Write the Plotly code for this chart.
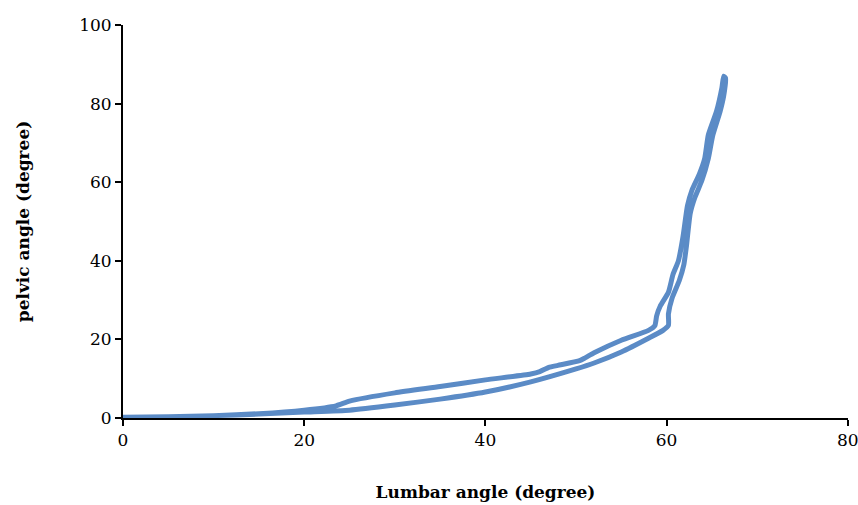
import plotly.graph_objects as go

# Branch going up (lower / right branch)
up_x = [0, 5, 10, 15, 20, 25, 30, 35, 40, 45, 50, 52, 55, 58, 59.6, 60.2, 60.2, 60.6, 61.4, 61.9, 62.2, 62.6, 63.1, 63.9, 64.6, 65.1, 65.9, 66.3, 66.5]
up_y = [0.2, 0.3, 0.6, 1.0, 1.5, 2.0, 3.3, 4.8, 6.6, 9.2, 12.5, 14.0, 16.8, 20.3, 22.3, 23.6, 26.5, 30.5, 35.0, 39.0, 44.0, 52.0, 56.0, 60.5, 66.0, 72.0, 78.0, 82.0, 86.5]

# Branch coming down (upper / left branch)
down_x = [66.3, 66.1, 65.5, 64.6, 64.2, 63.6, 62.8, 62.3, 61.8, 61.3, 60.7, 60.2, 59.3, 58.9, 58.7, 58.0, 55.0, 52.0, 51.0, 50.4, 48.0, 47.0, 46.0, 45.0, 40.0, 35.0, 30.0, 25.0, 23.5, 20.0, 15.0, 10.0, 5.0, 0]
down_y = [87.0, 84.0, 78.0, 72.0, 66.0, 62.0, 58.0, 54.0, 46.0, 40.0, 36.5, 32.0, 28.5, 26.0, 23.5, 22.3, 19.8, 16.6, 15.3, 14.6, 13.4, 12.9, 11.8, 11.2, 9.7, 8.0, 6.4, 4.3, 3.1, 2.0, 1.1, 0.6, 0.3, 0.2]

x_ticks = [0, 20, 40, 60, 80]
y_ticks = [0, 20, 40, 60, 80, 100]

color = "#5B8BC6"
fig = go.Figure()
fig.add_trace(go.Scatter(x=up_x + down_x, y=up_y + down_y, mode="lines",
                         line=dict(color=color, width=5, shape="spline", smoothing=0.5),
                         showlegend=False, hoverinfo="skip"))

font_family = "DejaVu Serif, serif"
fs = 17
fig.update_layout(
    width=858, height=505,
    margin=dict(l=123, r=10, t=25, b=87),
    plot_bgcolor="white", paper_bgcolor="white",
    font=dict(family=font_family, size=fs, color="black"),
    showlegend=False,
)
fig.update_xaxes(
    range=[0, 80.02], tickvals=x_ticks, showgrid=False, zeroline=False,
    showline=True, linecolor="black", linewidth=2,
    ticks="outside", ticklen=6, tickwidth=2, tickcolor="black",
    tickfont=dict(family=font_family, size=fs),
    ticklabeloverflow="allow", automargin=False,
    title=dict(text="<b>Lumbar angle (degree)</b>", font=dict(family=font_family, size=fs), standoff=37),
)
fig.update_yaxes(
    range=[0, 100.02], tickvals=y_ticks, showgrid=False, zeroline=False,
    showline=True, linecolor="black", linewidth=2,
    ticks="outside", ticklen=6, tickwidth=2, tickcolor="black",
    tickfont=dict(family=font_family, size=fs),
    ticklabeloverflow="allow", automargin=False,
    title=dict(text="<b>pelvic angle (degree)</b>", font=dict(family=font_family, size=fs), standoff=45),
)

fig.write_html(
    "out.html",
    config={"displayModeBar": False, "staticPlot": True},
    post_script="document.body.style.margin='0';document.documentElement.style.overflow='hidden';",
)
